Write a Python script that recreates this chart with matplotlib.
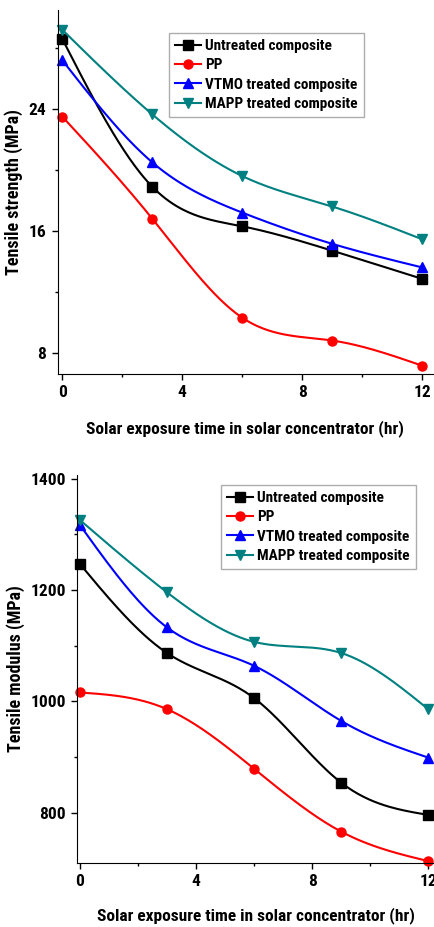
import numpy as np
import matplotlib.pyplot as plt
from matplotlib.ticker import MultipleLocator

hours = [0, 3, 6, 9, 12]
labels = ['Untreated composite', 'PP', 'VTMO treated composite', 'MAPP treated composite']
colors = ['black', 'red', 'blue', '#008080']
markers = ['s', 'o', '^', 'v']

strength_untreated = [28.6, 18.9, 16.3, 14.7, 12.85]
strength_pp = [23.5, 16.8, 10.3, 8.8, 7.15]
strength_vtmo = [27.2, 20.5, 17.2, 15.15, 13.6]
strength_mapp = [29.2, 23.65, 19.6, 17.6, 15.45]

modulus_untreated = [1247, 1087, 1006, 854, 796]
modulus_pp = [1016, 986, 879, 766, 713]
modulus_vtmo = [1317, 1133, 1064, 965, 899]
modulus_mapp = [1326, 1196, 1107, 1087, 986]

plt.rcParams['font.family'] = ['Roboto Condensed', 'Liberation Sans', 'DejaVu Sans']
plt.rcParams['font.weight'] = 'bold'


def spline(x, y, n=200):
    '''natural cubic spline through the points, like Origin's spline connect'''
    x = np.asarray(x, float)
    y = np.asarray(y, float)
    k = len(x)
    h = np.diff(x)
    A = np.zeros((k, k))
    b = np.zeros(k)
    A[0, 0] = A[-1, -1] = 1
    for i in range(1, k - 1):
        A[i, i - 1] = h[i - 1]
        A[i, i] = 2 * (h[i - 1] + h[i])
        A[i, i + 1] = h[i]
        b[i] = 6 * ((y[i + 1] - y[i]) / h[i] - (y[i] - y[i - 1]) / h[i - 1])
    m = np.linalg.solve(A, b)
    xs = np.linspace(x[0], x[-1], n)
    idx = np.clip(np.searchsorted(x, xs) - 1, 0, k - 2)
    x0, x1 = x[idx], x[idx + 1]
    hh = x1 - x0
    t0, t1 = x1 - xs, xs - x0
    ys = (m[idx] * t0**3 + m[idx + 1] * t1**3) / (6 * hh) \
        + (y[idx] / hh - m[idx] * hh / 6) * t0 + (y[idx + 1] / hh - m[idx + 1] * hh / 6) * t1
    return xs, ys


def panel(ax, series, ylabel, ymajor, xpad):
    for vals, lab, c, mk in zip(series, labels, colors, markers):
        xs, ys = spline(hours, vals)
        ax.plot(xs, ys, color=c, lw=1.5, clip_on=False)
        ax.plot(hours, vals, color=c, marker=mk, ms=6.5, lw=0, clip_on=False)
        ax.plot([], [], color=c, marker=mk, ms=6.5, lw=1.5, label=lab)
    for s in ['top', 'right']:
        ax.spines[s].set_visible(False)
    ax.xaxis.set_major_locator(MultipleLocator(4))
    ax.xaxis.set_minor_locator(MultipleLocator(2))
    ax.yaxis.set_major_locator(MultipleLocator(ymajor))
    ax.yaxis.set_minor_locator(MultipleLocator(ymajor / 2))
    ax.tick_params(which='major', length=4, width=1, labelsize=12.5, pad=4)
    ax.tick_params(which='minor', length=2.5, width=1)
    ax.set_xlabel('Solar exposure time in solar concentrator (hr)', fontsize=12.5,
                  fontweight='bold', labelpad=xpad)
    ax.set_ylabel(ylabel, fontsize=13, fontweight='bold', labelpad=4)
    leg = ax.legend(loc='upper right', fontsize=11, frameon=True, fancybox=False,
                    handlelength=1.7, handletextpad=0.3, borderpad=0.4, labelspacing=0.35,
                    borderaxespad=0)
    leg.get_frame().set_edgecolor('#999999')
    leg.get_frame().set_linewidth(1)
    return leg


fig = plt.figure(figsize=(4.34, 9.27), dpi=100)

ax1 = fig.add_axes([0.1325, 0.5965, 0.865, 0.3927])
leg1 = panel(ax1, [strength_untreated, strength_pp, strength_vtmo, strength_mapp],
             'Tensile strength (MPa)', 8, 14)
ax1.set_xlim(-0.16, 12.36)
ax1.set_ylim(6.6, 30.5)
leg1.set_bbox_to_anchor((364 / 434, 1 - 33 / 927), transform=fig.transFigure)

ax2 = fig.add_axes([0.178, 0.0687, 0.822, 0.419])
leg2 = panel(ax2, [modulus_untreated, modulus_pp, modulus_vtmo, modulus_mapp],
             'Tensile modulus (MPa)', 200, 13)
ax2.set_xlim(-0.09, 12.2)
ax2.set_ylim(709, 1407)
leg2.set_bbox_to_anchor((416 / 434, 1 - 485 / 927), transform=fig.transFigure)

fig.savefig('out.png', dpi=100)
